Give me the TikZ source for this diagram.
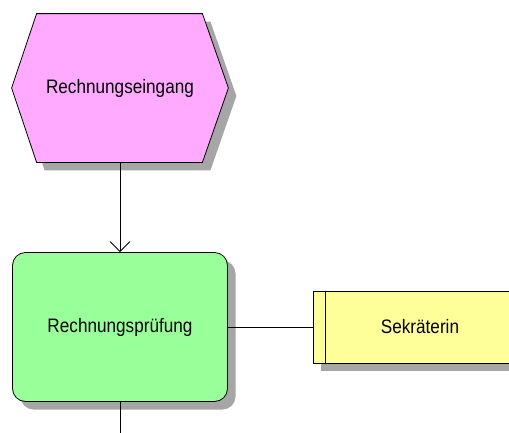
\documentclass[tikz,border=0pt]{standalone}
\usepackage{fontspec}
\setmainfont{Liberation Sans}[FakeStretch=0.88]
\usepackage{tikz}
\usetikzlibrary{arrows.meta,calc,shadows}

\definecolor{evpink}{HTML}{FFAAFF}
\definecolor{fngreen}{HTML}{99FF99}
\definecolor{orgyellow}{HTML}{FFFF99}

\tikzset{
  shade8/.style={drop shadow={shadow xshift=8pt, shadow yshift=-8pt, opacity=1, fill=black!35}},
  label19/.style={font=\fontsize{19.5}{22}\selectfont},
}

\begin{document}
\begin{tikzpicture}[x=1pt, y=-1pt, line width=0.8pt]
\useasboundingbox (0,0) rectangle (509,432);
\clip (0,0) rectangle (509,432);

% event
\node[anchor=center, minimum width=216pt, minimum height=148pt, inner sep=0pt] (ev) at (120,88) {};
\filldraw[shade8, fill=evpink, draw=black]
  (ev.west) -- ($(ev.north west)+(25,0)$) -- ($(ev.north east)+(-26,0)$) -- (ev.east)
  -- ($(ev.south east)+(-26,0)$) -- ($(ev.south west)+(25,0)$) -- cycle;
\node[label19, anchor=center] (evtext) at (ev.center) {Rechnungseingang};

% function
\node[anchor=center, shade8, draw, fill=fngreen, rounded corners=13pt, minimum width=215pt, minimum height=149pt, inner sep=0pt, label19] (fn) at (120,327) {Rechnungsprüfung};

% organisational unit
\node[anchor=center, shade8, draw, fill=orgyellow, minimum width=214pt, minimum height=72pt, inner sep=0pt, label19] (org) at (420,327) {Sekräterin};
\draw (org.north west) ++(13,0) -- ($(org.south west)+(13,0)$);

\coordinate (out) at (120,440);

\draw[-{Straight Barb[length=10pt, width=20pt]}] (ev.south) -- (fn.north);
\draw (fn.east) -- (org.west);
\draw (fn.south) -- (out);
\end{tikzpicture}
\end{document}
